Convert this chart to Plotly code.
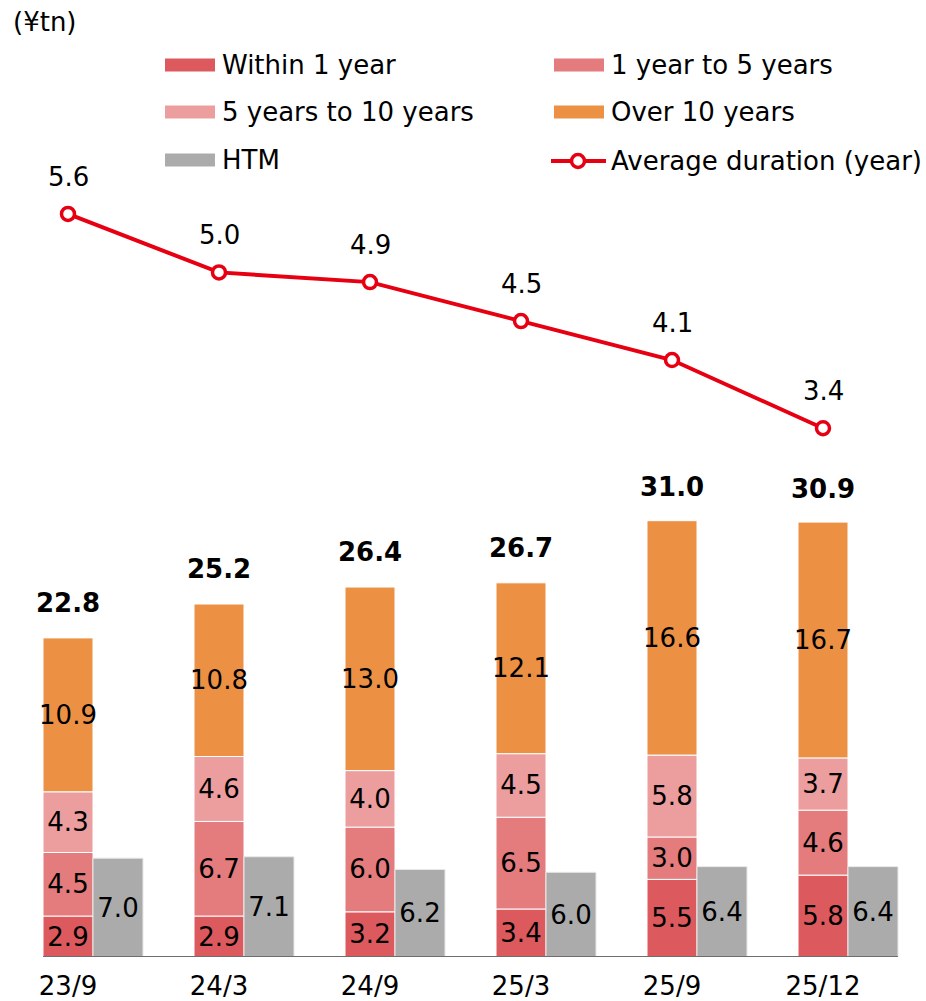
import numpy as np
import plotly.graph_objects as go

categories = ["23/9", "24/3", "24/9", "25/3", "25/9", "25/12"]
within_1y = [2.9, 2.9, 3.2, 3.4, 5.5, 5.8]
y1_to_5 = [4.5, 6.7, 6.0, 6.5, 3.0, 4.6]
y5_to_10 = [4.3, 4.6, 4.0, 4.5, 5.8, 3.7]
over_10 = [10.9, 10.8, 13.0, 12.1, 16.6, 16.7]
htm = [7.0, 7.1, 6.2, 6.0, 6.4, 6.4]
totals = [22.8, 25.2, 26.4, 26.7, 31.0, 30.9]
avg_duration = [5.6, 5.0, 4.9, 4.5, 4.1, 3.4]

series_names = ["Within 1 year", "1 year to 5 years", "5 years to 10 years", "Over 10 years"]
series_colors = ["#DC5A5E", "#E47B7C", "#EC9D9E", "#EC9144"]
htm_color = "#ABABAB"
line_color = "#E60012"

FONT = "DejaVu Sans"
FS = 26
W, H = 926, 1001
MT, MB, ML, MR = 0, 44, 0, 0
PH = H - MT - MB  # plot height in px
PX_PER_CAT = 151.0
X0_PX = 68.0
BAR_PX_PER_UNIT = 14.12
LINE_PX_PER_UNIT = 97.4
LINE_REF_V, LINE_REF_PX = 4.583, 313.0

xpos = np.arange(len(categories))
bw = 50.0 / PX_PER_CAT

fig = go.Figure()

stack = np.array([within_1y, y1_to_5, y5_to_10, over_10], dtype=float)
bases = np.vstack([np.zeros(len(categories)), np.cumsum(stack, axis=0)[:-1]])

for vals, base, name, col in zip(stack, bases, series_names, series_colors):
    fig.add_trace(go.Bar(
        x=xpos, y=vals, base=base, name=name,
        width=bw, offset=-bw / 2,
        marker=dict(color=col, line=dict(color="white", width=1)),
        text=[f"{v:.1f}" for v in vals], textposition="inside",
        insidetextanchor="middle", textangle=0, constraintext="none",
        textfont=dict(family=FONT, size=FS, color="black"),
        showlegend=False, hoverinfo="skip",
    ))

fig.add_trace(go.Bar(
    x=xpos, y=htm, base=np.zeros(len(categories)), name="HTM",
    width=bw, offset=bw / 2,
    marker=dict(color=htm_color, line=dict(color="#e8e8e8", width=1)),
    text=[f"{v:.1f}" for v in htm], textposition="inside",
    insidetextanchor="middle", textangle=0, constraintext="none",
    textfont=dict(family=FONT, size=FS, color="black"),
    showlegend=False, hoverinfo="skip",
))

fig.add_trace(go.Scatter(
    x=xpos, y=avg_duration, yaxis="y2", mode="lines+markers",
    name="Average duration (year)",
    line=dict(color=line_color, width=4),
    marker=dict(symbol="circle", size=13, color="white",
                line=dict(color=line_color, width=3.5)),
    showlegend=False, hoverinfo="skip",
))

annotations = []
# totals
for x, t in zip(xpos, totals):
    annotations.append(dict(x=x, y=t, xref="x", yref="y", text=f"<b>{t:.1f}</b>",
                            showarrow=False, yanchor="middle", yshift=32,
                            font=dict(family=FONT, size=FS, color="black")))
# line labels
for x, v in zip(xpos, avg_duration):
    annotations.append(dict(x=x, y=v, xref="x", yref="y2", text=f"{v:.1f}",
                            showarrow=False, yanchor="middle", yshift=37,
                            font=dict(family=FONT, size=FS, color="black")))

def px(xp):
    return xp / W

def py(yp):
    return (PH - (yp - MT)) / PH

annotations.append(dict(x=px(11), y=py(22), xref="paper", yref="paper", text="(¥tn)",
                        showarrow=False, xanchor="left", yanchor="middle",
                        font=dict(family=FONT, size=FS, color="black")))

shapes = []
legend_items = [
    ("Within 1 year", series_colors[0], 165, 65),
    ("1 year to 5 years", series_colors[1], 554, 65),
    ("5 years to 10 years", series_colors[2], 165, 112),
    ("Over 10 years", series_colors[3], 554, 112),
    ("HTM", htm_color, 165, 160),
]
for name, col, lx, ly in legend_items:
    shapes.append(dict(type="rect", xref="paper", yref="paper",
                       x0=px(lx), x1=px(lx + 50), y0=py(ly - 6.5), y1=py(ly + 6.5),
                       fillcolor=col, line=dict(width=0)))
    annotations.append(dict(x=px(lx + 55), y=py(ly), xref="paper", yref="paper", text=name,
                            showarrow=False, xanchor="left", yanchor="middle",
                            font=dict(family=FONT, size=FS, color="black")))
# line legend
shapes.append(dict(type="line", xref="paper", yref="paper",
                   x0=px(551), x1=px(606), y0=py(161), y1=py(161),
                   line=dict(color=line_color, width=4)))
shapes.append(dict(type="circle", xref="paper", yref="paper",
                   x0=px(578 - 6.5), x1=px(578 + 6.5), y0=py(161 - 6.5), y1=py(161 + 6.5),
                   fillcolor="white", line=dict(color=line_color, width=3.5)))
annotations.append(dict(x=px(609), y=py(161), xref="paper", yref="paper",
                        text="Average duration (year)", showarrow=False,
                        xanchor="left", yanchor="middle",
                        font=dict(family=FONT, size=FS, color="black")))

# baseline axis line
shapes.append(dict(type="line", xref="x", yref="y",
                   x0=xpos[0] - bw / 2, x1=xpos[-1] + 1.5 * bw, y0=0, y1=0,
                   line=dict(color="#6e6e6e", width=2), layer="above"))

x_min = -X0_PX / PX_PER_CAT
x_max = x_min + (W - ML - MR) / PX_PER_CAT
y_max = PH / BAR_PX_PER_UNIT
v0 = LINE_REF_V - (PH - LINE_REF_PX) / LINE_PX_PER_UNIT
v1 = v0 + PH / LINE_PX_PER_UNIT

fig.update_layout(
    width=W, height=H,
    margin=dict(l=ML, r=MR, t=MT, b=MB, pad=0),
    plot_bgcolor="white", paper_bgcolor="white",
    barmode="overlay",
    font=dict(family=FONT, size=FS, color="black"),
    xaxis=dict(range=[x_min, x_max], tickvals=xpos, ticktext=categories,
               showgrid=False, zeroline=False, showline=False, ticks="",
               ticklabelstandoff=11,
               tickfont=dict(family=FONT, size=FS, color="black")),
    yaxis=dict(range=[0, y_max], visible=False, showgrid=False, zeroline=False),
    yaxis2=dict(range=[v0, v1], overlaying="y", visible=False, showgrid=False,
                zeroline=False),
    annotations=annotations, shapes=shapes,
    showlegend=False,
)

fig.write_html("out.html")
